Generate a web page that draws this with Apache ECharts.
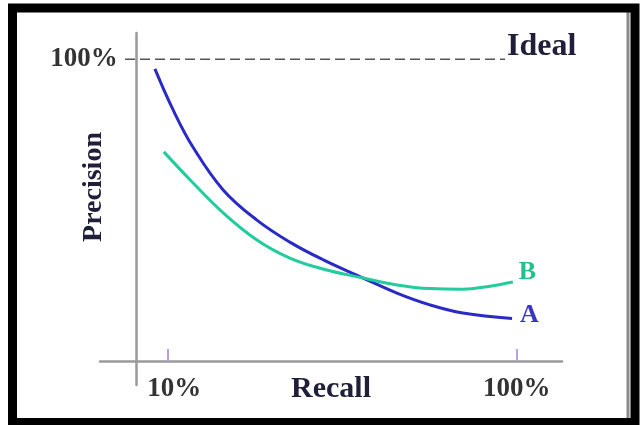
<!DOCTYPE html>
<html>
<head>
<meta charset="utf-8">
<script src="https://cdn.jsdelivr.net/npm/echarts@6/dist/echarts.min.js"></script>
<style>html,body{margin:0;padding:0;background:#fff;}#c{width:640px;height:425px;}</style>
</head>
<body>
<div id="c"></div>
<script>
// Data (recall %, precision %)
const recallA    = [6.7, 11.4, 16.5, 24.3, 33.0, 41.5, 50.0, 60.4, 69.1, 77.6, 86.1, 98.8];
const precisionA = [96.8, 83.2, 70.9, 56.7, 46.7, 39.4, 33.6, 27.5, 22.5, 18.6, 15.9, 14.1];
const recallB    = [9.0, 15.8, 24.3, 33.0, 41.5, 50.0, 60.4, 69.1, 77.6, 86.1, 93.1, 99.0];
const precisionB = [69.3, 60.0, 49.1, 40.1, 34.1, 30.5, 27.5, 25.2, 24.0, 23.8, 24.8, 26.2];
const idealRecall = [-1.0, 97.0];
const idealPrecision = 100;
const xTickValues = [10, 100];
const xTickLabels = ['10%', '100%'];
const yTickValues = [100];
const yTickLabels = ['100%'];
const seriesNames = ['A', 'B', 'Ideal'];

const FONT = 'Liberation Serif';
const TXT = '#1f1f3a';

const pairs = (xs, ys) => xs.map((x, i) => [x, Array.isArray(ys) ? ys[i] : ys]);

const chart = echarts.init(document.getElementById('c'), null, {renderer: 'canvas'});
chart.setOption({
  animation: false,
  backgroundColor: '#fff',
  grid: [
    {left: 100, right: 78, top: 33, bottom: 64, containLabel: false, outerBoundsMode: 'none'},
    {left: 100, right: 78, top: 33, bottom: 40, containLabel: false, outerBoundsMode: 'none'}
  ],
  xAxis: [{
    gridIndex: 0, type: 'value', min: -7.46, max: 111.68,
    name: 'Recall', nameLocation: 'middle', nameGap: 13, nameMoveOverlap: false,
    nameTextStyle: {fontFamily: FONT, fontWeight: 'bold', fontSize: 30, color: TXT},
    axisLine: {show: true, onZero: false, lineStyle: {color: '#9a9a9a', width: 2.5}},
    axisTick: {show: true, inside: true, length: 12, customValues: xTickValues, lineStyle: {color: '#b7a0e0', width: 2}},
    axisLabel: {
      show: true, customValues: xTickValues, margin: 15,
      formatter: v => { const i = xTickValues.indexOf(v); return i === 0 ? '{a|' + xTickLabels[i] + '}' : '{b|' + xTickLabels[i] + '}'; },
      rich: {
        a: {fontFamily: FONT, fontWeight: 'bold', fontSize: 27, color: '#333', padding: [0, 0, 0, 13]},
        b: {fontFamily: FONT, fontWeight: 'bold', fontSize: 27, color: '#333', padding: [0, 0, 0, 0]}
      }
    },
    splitLine: {show: false}
  }, {
    gridIndex: 1, type: 'value', min: 0, max: 1, show: false
  }],
  yAxis: [{
    gridIndex: 0, type: 'value', min: 0, max: 108.7,
    offset: -36.7,
    axisLine: {show: false, onZero: false},
    axisTick: {show: false},
    axisLabel: {
      show: true, customValues: yTickValues, margin: 19,
      formatter: v => yTickLabels[yTickValues.indexOf(v)] || '',
      fontFamily: FONT, fontWeight: 'bold', fontSize: 27, color: '#333', padding: [0, 0, 8, 0]
    },
    splitLine: {show: false}
  }, {
    gridIndex: 1, type: 'value', min: 0, max: 1, offset: -36.7,
    axisLine: {show: true, onZero: false, lineStyle: {color: '#9a9a9a', width: 2.5}},
    axisTick: {show: false}, axisLabel: {show: false}, splitLine: {show: false}
  }],
  graphic: [
    {type: 'rect', z: 100, silent: true, shape: {x: 12.5, y: 8, width: 622.5, height: 414.5},
     style: {fill: 'none', stroke: '#000', lineWidth: 9}},
    {type: 'line', z: 99, silent: true, shape: {x1: 628, y1: 12, x2: 628, y2: 418},
     style: {stroke: '#8a8a8a', lineWidth: 3}},
    {type: 'text', x: 94, y: 187, rotation: Math.PI / 2, silent: true,
     style: {text: 'Precision', fontFamily: FONT, fontWeight: 'bold', fontSize: 28, fill: TXT, align: 'center', verticalAlign: 'middle'}}
  ],
  series: [
    {
      name: seriesNames[0], type: 'line', smooth: 0.4, showSymbol: false,
      data: pairs(recallA, precisionA),
      lineStyle: {color: '#2a2ac6', width: 3},
      itemStyle: {color: '#2a2ac6'},
      endLabel: {show: true, formatter: '{a}', distance: 8, offset: [0, -3],
        fontFamily: FONT, fontWeight: 'bold', fontSize: 26, color: '#3a34c8'}
    },
    {
      name: seriesNames[1], type: 'line', smooth: 0.4, showSymbol: false,
      data: pairs(recallB, precisionB),
      lineStyle: {color: '#22cc9c', width: 3},
      itemStyle: {color: '#22cc9c'},
      endLabel: {show: true, formatter: '{a}', distance: 6, offset: [0, -10],
        fontFamily: FONT, fontWeight: 'bold', fontSize: 26, color: '#20c08f'}
    },
    {
      name: seriesNames[2], type: 'line', showSymbol: false,
      data: pairs(idealRecall, idealPrecision),
      lineStyle: {color: '#555', width: 1.5, type: [10, 5]},
      itemStyle: {color: '#555'},
      endLabel: {show: true, formatter: '{a}', distance: 2, offset: [0, -13],
        fontFamily: FONT, fontWeight: 'bold', fontSize: 32, color: TXT}
    }
  ]
});
</script>
</body>
</html>
